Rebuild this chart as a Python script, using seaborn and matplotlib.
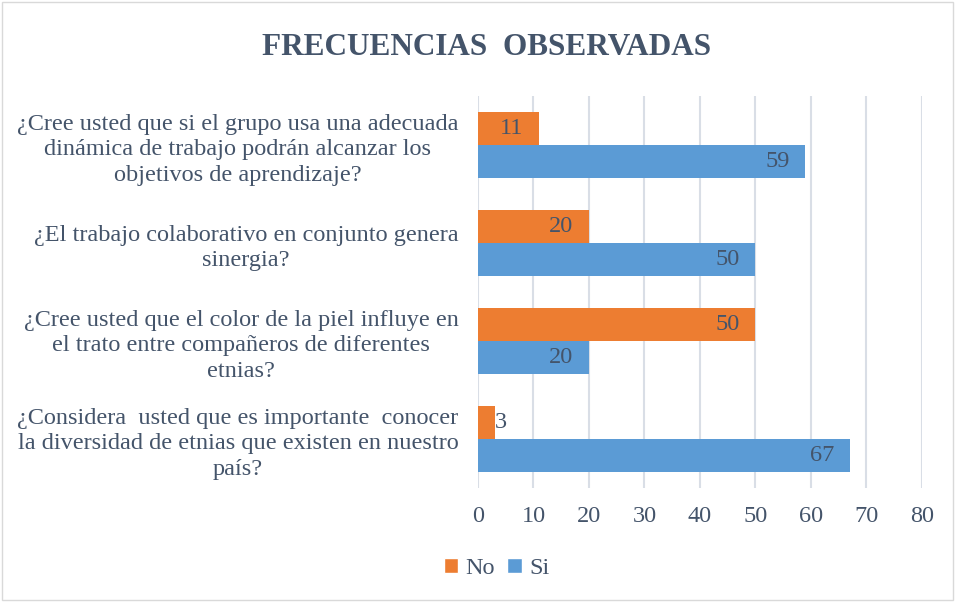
import pandas as pd
import matplotlib.pyplot as plt
import seaborn as sns
from matplotlib.patches import Rectangle, Patch

# data
preguntas = [
    "¿Cree usted que si el grupo usa una adecuada\ndinámica de trabajo podrán alcanzar los\nobjetivos de aprendizaje?",
    "¿El trabajo colaborativo en conjunto genera\nsinergia?",
    "¿Cree usted que el color de la piel influye en\nel trato entre compañeros de diferentes\netnias?",
    "¿Considera  usted que es importante  conocer\nla diversidad de etnias que existen en nuestro\npaís?",
]
respuestas = ["No", "Si"]
no_vals = [11, 20, 50, 3]
si_vals = [59, 50, 20, 67]

df = pd.DataFrame({
    "Pregunta": preguntas * 2,
    "Respuesta": ["No"] * len(preguntas) + ["Si"] * len(preguntas),
    "Frecuencia": no_vals + si_vals,
})

sns.set_theme(style="white")
plt.rcParams["font.family"] = ["Liberation Serif", "DejaVu Serif"]

text_col = "#44546A"
colors = {"No": "#ED7D31", "Si": "#5B9BD5"}
fs = 17.5

fig = plt.figure(figsize=(9.55, 6.02), dpi=100)
ax = fig.add_axes([0.5005, 0.1894, 0.4649, 0.6511])

sns.barplot(
    data=df, y="Pregunta", x="Frecuencia", hue="Respuesta",
    hue_order=respuestas, palette=colors, orient="h",
    width=0.68, saturation=1, ax=ax, legend=False, linewidth=0,
)

ax.set_xlim(0, 80)
ax.set_xticks(range(0, 81, 10))
ax.set_xlabel("")
ax.set_ylabel("")
ax.grid(axis="x", color="#D9DEE6", linewidth=1.5)
ax.set_axisbelow(True)
for s in ax.spines.values():
    s.set_visible(False)
ax.tick_params(axis="both", length=0, colors=text_col, labelsize=fs)
ax.tick_params(axis="x", pad=13)
ax.tick_params(axis="y", pad=14)
for lbl in ax.get_yticklabels():
    lbl.set_multialignment("center")
    lbl.set_linespacing(1.3)

# data labels (inside end)
for cont in ax.containers:
    for bar in cont:
        w = bar.get_width()
        yc = bar.get_y() + bar.get_height() / 2
        if w < 5:
            ax.text(w, yc, f"{w:.0f}", ha="left", va="center",
                    fontsize=fs, color=text_col)
        else:
            ax.text(w - 2.8, yc, f"{w:.0f}", ha="right", va="center",
                    fontsize=fs, color=text_col)

fig.text(0.51, 0.921, "FRECUENCIAS  OBSERVADAS", ha="center", va="center",
         fontsize=22.5, fontweight="bold", color=text_col)

handles = [Patch(facecolor=colors[r], label=r) for r in respuestas]
fig.legend(handles=handles, loc="center", bbox_to_anchor=(0.52, 0.056),
           ncol=2, frameon=False, fontsize=fs, handlelength=0.6,
           handleheight=0.6, handletextpad=0.3, columnspacing=0.5,
           labelcolor=text_col)

fig.patches.append(Rectangle((0.002, 0.003), 0.996, 0.994, transform=fig.transFigure,
                             fill=False, edgecolor="#D9D9D9", linewidth=1))

fig.savefig("out.png", dpi=100)
